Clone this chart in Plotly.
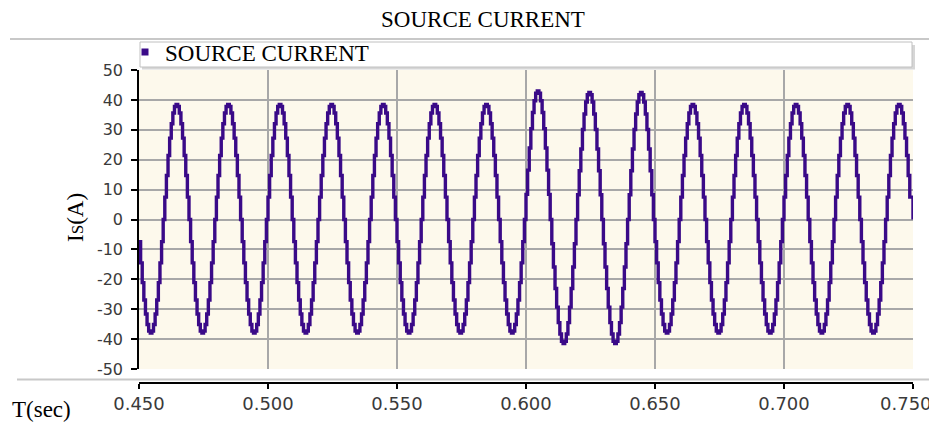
import plotly.graph_objects as go

# ---- data ----
t_start = 0.450          # s, first sample
t_step = 0.000625        # s, sample interval (32 samples per 50 Hz cycle)

source_current_A = [
    # 0.450 - 0.470
    -7.4, -14.5, -21.1, -26.9, -31.6, -35.1, -37.3, -38.0, -37.3, -35.1, -31.6, -26.9, -21.1, -14.5, -7.4, 0.0,
    7.5, 14.7, 21.4, 27.2, 32.0, 35.6, 37.8, 38.5, 37.8, 35.6, 32.0, 27.2, 21.4, 14.7, 7.5, 0.0,
    # 0.470 - 0.490
    -7.4, -14.5, -21.1, -26.9, -31.6, -35.1, -37.3, -38.0, -37.3, -35.1, -31.6, -26.9, -21.1, -14.5, -7.4, 0.0,
    7.5, 14.7, 21.4, 27.2, 32.0, 35.6, 37.8, 38.5, 37.8, 35.6, 32.0, 27.2, 21.4, 14.7, 7.5, 0.0,
    # 0.490 - 0.510
    -7.4, -14.5, -21.1, -26.9, -31.6, -35.1, -37.3, -38.0, -37.3, -35.1, -31.6, -26.9, -21.1, -14.5, -7.4, 0.0,
    7.5, 14.7, 21.4, 27.2, 32.0, 35.6, 37.8, 38.5, 37.8, 35.6, 32.0, 27.2, 21.4, 14.7, 7.5, 0.0,
    # 0.510 - 0.530
    -7.4, -14.5, -21.1, -26.9, -31.6, -35.1, -37.3, -38.0, -37.3, -35.1, -31.6, -26.9, -21.1, -14.5, -7.4, 0.0,
    7.5, 14.7, 21.4, 27.2, 32.0, 35.6, 37.8, 38.5, 37.8, 35.6, 32.0, 27.2, 21.4, 14.7, 7.5, 0.0,
    # 0.530 - 0.550
    -7.4, -14.5, -21.1, -26.9, -31.6, -35.1, -37.3, -38.0, -37.3, -35.1, -31.6, -26.9, -21.1, -14.5, -7.4, 0.0,
    7.5, 14.7, 21.4, 27.2, 32.0, 35.6, 37.8, 38.5, 37.8, 35.6, 32.0, 27.2, 21.4, 14.7, 7.5, 0.0,
    # 0.550 - 0.570
    -7.4, -14.5, -21.1, -26.9, -31.6, -35.1, -37.3, -38.0, -37.3, -35.1, -31.6, -26.9, -21.1, -14.5, -7.4, 0.0,
    7.5, 14.7, 21.4, 27.2, 32.0, 35.6, 37.8, 38.5, 37.8, 35.6, 32.0, 27.2, 21.4, 14.7, 7.5, 0.0,
    # 0.570 - 0.590
    -7.4, -14.5, -21.1, -26.9, -31.6, -35.1, -37.3, -38.0, -37.3, -35.1, -31.6, -26.9, -21.1, -14.5, -7.4, 0.0,
    7.5, 14.7, 21.4, 27.2, 32.0, 35.6, 37.8, 38.5, 37.8, 35.6, 32.0, 27.2, 21.4, 14.7, 7.5, 0.0,
    # 0.590 - 0.610
    -7.4, -14.5, -21.1, -26.9, -31.6, -35.1, -37.3, -38.0, -37.3, -35.1, -31.6, -26.9, -21.1, -14.5, -7.4, 0.0,
    8.4, 16.5, 23.9, 30.4, 35.8, 39.7, 42.2, 43.0, 42.2, 39.7, 35.8, 30.4, 23.9, 16.5, 8.4, 0.0,
    # 0.610 - 0.630
    -8.1, -15.9, -23.1, -29.3, -34.5, -38.3, -40.7, -41.5, -40.7, -38.3, -34.5, -29.3, -23.1, -15.9, -8.1, 0.0,
    8.3, 16.3, 23.6, 30.1, 35.3, 39.3, 41.7, 42.5, 41.7, 39.3, 35.3, 30.1, 23.6, 16.3, 8.3, 0.0,
    # 0.630 - 0.650
    -8.1, -15.9, -23.1, -29.3, -34.5, -38.3, -40.7, -41.5, -40.7, -38.3, -34.5, -29.3, -23.1, -15.9, -8.1, 0.0,
    8.3, 16.3, 23.6, 30.1, 35.3, 39.3, 41.7, 42.5, 41.7, 39.3, 35.3, 30.1, 23.6, 16.3, 8.3, 0.0,
    # 0.650 - 0.670
    -7.4, -14.5, -21.1, -26.9, -31.6, -35.1, -37.3, -38.0, -37.3, -35.1, -31.6, -26.9, -21.1, -14.5, -7.4, 0.0,
    7.5, 14.7, 21.4, 27.2, 32.0, 35.6, 37.8, 38.5, 37.8, 35.6, 32.0, 27.2, 21.4, 14.7, 7.5, 0.0,
    # 0.670 - 0.690
    -7.4, -14.5, -21.1, -26.9, -31.6, -35.1, -37.3, -38.0, -37.3, -35.1, -31.6, -26.9, -21.1, -14.5, -7.4, 0.0,
    7.5, 14.7, 21.4, 27.2, 32.0, 35.6, 37.8, 38.5, 37.8, 35.6, 32.0, 27.2, 21.4, 14.7, 7.5, 0.0,
    # 0.690 - 0.710
    -7.4, -14.5, -21.1, -26.9, -31.6, -35.1, -37.3, -38.0, -37.3, -35.1, -31.6, -26.9, -21.1, -14.5, -7.4, 0.0,
    7.5, 14.7, 21.4, 27.2, 32.0, 35.6, 37.8, 38.5, 37.8, 35.6, 32.0, 27.2, 21.4, 14.7, 7.5, 0.0,
    # 0.710 - 0.730
    -7.4, -14.5, -21.1, -26.9, -31.6, -35.1, -37.3, -38.0, -37.3, -35.1, -31.6, -26.9, -21.1, -14.5, -7.4, 0.0,
    7.5, 14.7, 21.4, 27.2, 32.0, 35.6, 37.8, 38.5, 37.8, 35.6, 32.0, 27.2, 21.4, 14.7, 7.5, 0.0,
    # 0.730 - 0.750
    -7.4, -14.5, -21.1, -26.9, -31.6, -35.1, -37.3, -38.0, -37.3, -35.1, -31.6, -26.9, -21.1, -14.5, -7.4, 0.0,
    7.5, 14.7, 21.4, 27.2, 32.0, 35.6, 37.8, 38.5, 37.8, 35.6, 32.0, 27.2, 21.4, 14.7, 7.5, 7.5,
    0.0,
]

x_range = [0.450, 0.750]
x_tick_values = [0.450, 0.500, 0.550, 0.600, 0.650, 0.700, 0.750]
x_tick_labels = ["0.450", "0.500", "0.550", "0.600", "0.650", "0.700", "0.750"]
y_range = [-50, 50]
y_tick_values = [50, 40, 30, 20, 10, 0, -10, -20, -30, -40, -50]
y_tick_labels = ["50", "40", "30", "20", "10", "0", "-10", "-20", "-30", "-40", "-50"]

series_name = "SOURCE CURRENT"
chart_title = "SOURCE CURRENT"
y_title = "I<span style='font-size:17px'>S</span>(A)"
x_title = "T(sec)"

# ---- styling ----
PURPLE = "#3A0A88"
GRID = "#A8A8A8"
SERIF = "Liberation Serif, Times New Roman, serif"
SANS = "DejaVu Sans, Verdana, sans-serif"
TICK_FONT_X = dict(family=SANS, size=18, color="#3A3A3A")
TICK_FONT_Y = dict(family=SANS, size=16, color="#3A3A3A")

# the page body has an 8 px margin, so the figure starts at (8, 8) of the window
OFF = 8
W, H = 937 - OFF, 422 - OFF

# plot area in window pixels: x 139..913, y 70..369 ; x axis line at y 383
ML = 139 - OFF
MR = W - (913 - OFF)
MT = 70 - OFF
MB = H - (383 - OFF)
plot_h = H - MT - MB
plot_w = W - ML - MR


def px_x(px):
    """window pixel x -> paper coordinate"""
    return (px - OFF - ML) / plot_w


def px_y(py):
    """window pixel y -> paper coordinate"""
    return (H - MB - (py - OFF)) / plot_h


def cx(px):
    return (px - OFF) / W


def cy(py):
    return 1 - (py - OFF) / H


# the last x label would run past the page edge; as in the reference it is drawn
# pulled inward (as an annotation at the axis end) instead of centred on its tick
x_tick_text = x_tick_labels[:-1] + [""]

fig = go.Figure()
fig.add_trace(go.Scatter(
    x0=t_start, dx=t_step, y=source_current_A,
    mode="lines", line=dict(color=PURPLE, width=3.4, shape="hv"),
    name=series_name, showlegend=False, hoverinfo="x+y",
))
fig.add_trace(go.Scatter(
    x=[None], y=[None], mode="markers",
    marker=dict(symbol="square", size=7, color=PURPLE),
    name=series_name, showlegend=True,
))

shapes = [
    # top frame line
    dict(type="line", xref="paper", yref="paper", x0=px_x(10), x1=px_x(937),
         y0=px_y(39), y1=px_y(39), line=dict(color="#C8C8C8", width=2), layer="below"),
    # legend box shadow
    dict(type="rect", xref="paper", yref="paper", x0=px_x(142), x1=px_x(915),
         y0=px_y(45), y1=px_y(69.5), fillcolor="#D6D6D6", line=dict(width=0), layer="below"),
    # legend box
    dict(type="rect", xref="paper", yref="paper", x0=px_x(140), x1=px_x(912),
         y0=px_y(42), y1=px_y(67), fillcolor="white", line=dict(color="#C0C0C0", width=1), layer="below"),
    # separator above x axis
    dict(type="line", xref="paper", yref="paper", x0=px_x(17), x1=px_x(937),
         y0=px_y(379.5), y1=px_y(379.5), line=dict(color="#C8C8C8", width=2), layer="below"),
]

fig.update_layout(
    width=W, height=H,
    margin=dict(l=ML, r=MR, t=MT, b=MB, autoexpand=False),
    paper_bgcolor="white",
    plot_bgcolor="#FDF9EC",
    title=dict(text=chart_title, x=cx(483), xref="container", xanchor="center",
               y=cy(19), yref="container", yanchor="middle",
               font=dict(family=SERIF, size=23, color="black")),
    showlegend=True,
    legend=dict(x=cx(125), xref="container", xanchor="left",
                y=cy(52), yref="container", yanchor="middle",
                bgcolor="rgba(0,0,0,0)", borderwidth=0,
                font=dict(family=SERIF, size=23, color="black")),
    shapes=shapes,
    xaxis=dict(
        range=x_range, tickmode="array", tickvals=x_tick_values, ticktext=x_tick_text,
        showgrid=True, gridcolor=GRID, gridwidth=1.5, zeroline=False,
        showline=True, linecolor="black", linewidth=1.5,
        ticks="outside", ticklen=5, tickcolor="black", tickwidth=1.5,
        tickfont=TICK_FONT_X,
        anchor="free", position=0, automargin=False,
    ),
    yaxis=dict(
        domain=[(H - MB - (369 - OFF)) / plot_h, 1],
        range=y_range, tickmode="array", tickvals=y_tick_values, ticktext=y_tick_labels,
        showgrid=True, gridcolor=GRID, gridwidth=1.5, zeroline=False,
        showline=True, linecolor="black", linewidth=1.5,
        ticks="outside", ticklen=6, tickcolor="black", tickwidth=1.5,
        tickfont=TICK_FONT_Y,
        ticklabelstandoff=5, automargin=False,
    ),
    annotations=[
        dict(text=y_title, xref="paper", yref="paper", x=px_x(75), y=px_y(218),
             textangle=-90, showarrow=False, xanchor="center", yanchor="middle",
             font=dict(family=SERIF, size=23, color="black")),
        dict(text=x_title, xref="paper", yref="paper", x=px_x(10), y=px_y(409),
             showarrow=False, xanchor="left", yanchor="middle",
             font=dict(family=SERIF, size=23, color="black")),
        dict(text=x_tick_labels[-1], xref="x", yref="paper", x=x_tick_values[-1],
             xshift=-7, y=px_y(403), showarrow=False, xanchor="center", yanchor="middle",
             font=TICK_FONT_X),
    ],
)

fig.write_html("out.html")
